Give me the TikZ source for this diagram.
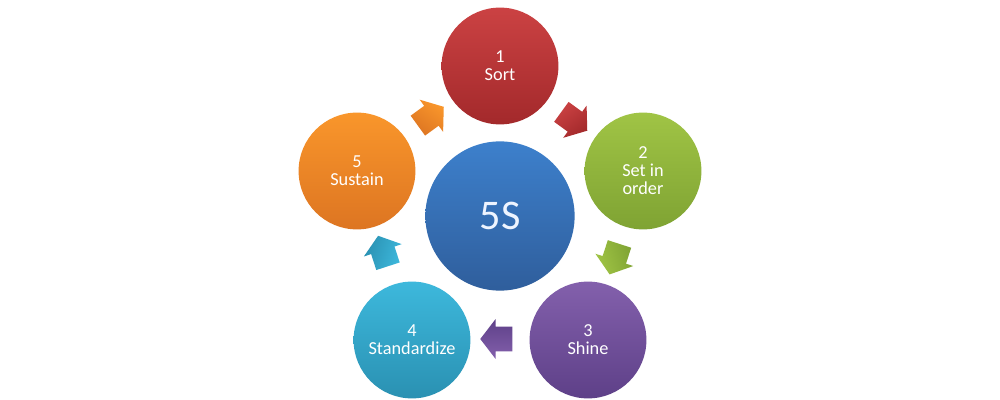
\documentclass[tikz,border=0pt]{standalone}
\usepackage{fontspec}
\setmainfont{Carlito}
\usetikzlibrary{shapes.arrows}
\definecolor{redT}{HTML}{CB4243}\definecolor{redB}{HTML}{A3292B}
\definecolor{grnT}{HTML}{A0C445}\definecolor{grnB}{HTML}{7FA333}
\definecolor{purT}{HTML}{8360AC}\definecolor{purB}{HTML}{5E4088}
\definecolor{cyaT}{HTML}{3DB8DC}\definecolor{cyaB}{HTML}{2A91B2}
\definecolor{oraT}{HTML}{F9962B}\definecolor{oraB}{HTML}{DD7522}
\definecolor{bluT}{HTML}{3D80CC}\definecolor{bluB}{HTML}{2F5E9C}
\definecolor{fivesText}{HTML}{EEF4FF}
\tikzset{
  stepcirc/.style 2 args={circle, minimum size=2.92cm, inner sep=0pt, draw=none,
    top color=#1, bottom color=#2, text=white, align=center,
    font=\fontsize{13}{12.8}\selectfont},
  blockarr/.style n args={3}{single arrow, minimum height=0.8cm, inner xsep=0pt,
    inner ysep=0.3cm, single arrow head extend=0.19cm, single arrow tip angle=105,
    draw=none, top color=#1, bottom color=#2, shading angle={0-(#3)}, rotate=#3}
}
\begin{document}
\begin{tikzpicture}[x=0.025cm, y=-0.025cm]
\useasboundingbox[fill=white] (0,0) rectangle (1000,400);
% centre
\node[circle, minimum size=3.73cm, inner sep=0pt, top color=bluT, bottom color=bluB,
  text=fivesText, font=\fontsize{30}{30}\selectfont] (c0) at (500,216) {5S};
% steps
\node[stepcirc={redT}{redB}] (c1) at (500,66) {1\\Sort};
\node[stepcirc={grnT}{grnB}] (c2) at (643,171) {2\\Set in\\order};
\node[stepcirc={purT}{purB}] (c3) at (588,340) {3\\Shine};
\node[stepcirc={cyaT}{cyaB}] (c4) at (412,340) {4\\Standardize};
\node[stepcirc={oraT}{oraB}] (c5) at (357,171) {5\\Sustain};
% arrows
\node[blockarr={redT}{redB}{-36}] (a1) at (570.5,118.5) {};
\node[blockarr={grnT}{grnB}{-108}] (a2) at (616,254.7) {};
\node[blockarr={purT}{purB}{180}] (a3) at (501,339) {};
\node[blockarr={cyaT}{cyaB}{108}] (a4) at (384.5,255.5) {};
\node[blockarr={oraT}{oraB}{36}] (a5) at (427,119) {};
\end{tikzpicture}
\end{document}
